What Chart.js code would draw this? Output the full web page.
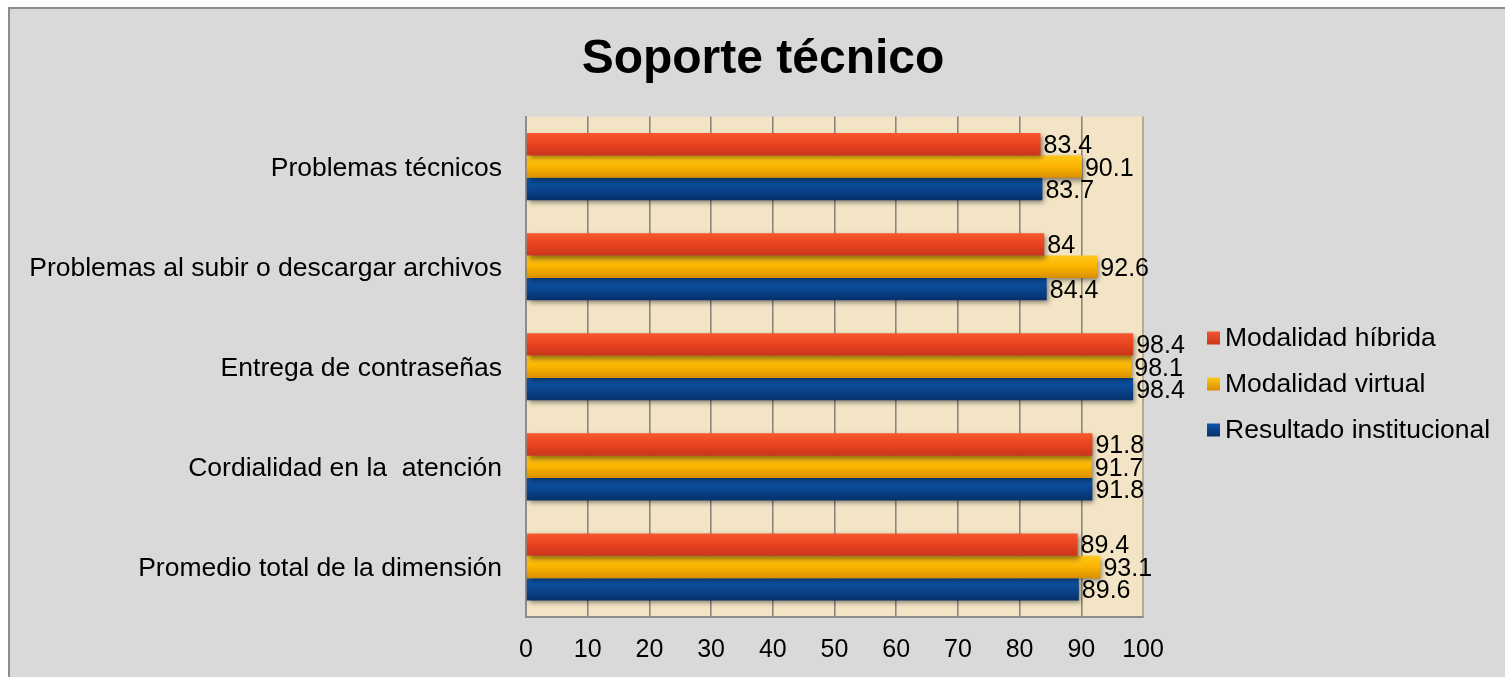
<!DOCTYPE html>
<html>
<head>
<meta charset="utf-8">
<title>Soporte técnico</title>
<script src="https://cdn.jsdelivr.net/npm/chart.js@4.4.1/dist/chart.umd.min.js"></script>
<style>
  html, body { margin: 0; padding: 0; background: #ffffff; overflow: hidden; }
  #frame {
    position: absolute; left: 8px; top: 7px; width: 1530px; height: 700px;
    background: #d9d9d9; border: 2px solid #8c8c8c;
  }
  #wrap { position: absolute; left: 0; top: 0; width: 1526px; height: 677px; }
</style>
</head>
<body>
<div id="frame"></div>
<div id="wrap"><canvas id="soporteChart"></canvas></div>
<script>
// ---- data ----
const categories = [
  'Problemas técnicos',
  'Problemas al subir o descargar archivos',
  'Entrega de contraseñas',
  'Cordialidad en la  atención',
  'Promedio total de la dimensión'
];
const seriesNames = ['Modalidad híbrida', 'Modalidad virtual', 'Resultado institucional'];
const hibrida = [83.4, 84, 98.4, 91.8, 89.4];
const virtual = [90.1, 92.6, 98.1, 91.7, 93.1];
const institucional = [83.7, 84.4, 98.4, 91.8, 89.6];
const xTicks = [0, 10, 20, 30, 40, 50, 60, 70, 80, 90, 100];

// ---- style ----
const FONT = "'Liberation Sans', Arial, sans-serif";
const CAT_PCT = 0.67;
const palettes = [
  ['#f6582f', '#e8431f', '#c9351a'],   // red
  ['#ffc71a', '#fbb400', '#d98e00'],   // orange
  ['#0d55a8', '#0a4690', '#06306a']    // blue
];

function barFill(c, stops) {
  const chart = c.chart;
  const y = chart.scales.y;
  if (!y || c.type !== 'data') return stops[1];
  const center = y.getPixelForValue(c.dataIndex);
  const band = Math.abs(y.getPixelForValue(1) - y.getPixelForValue(0)) * CAT_PCT / 3;
  const top = center + (c.datasetIndex - 1.5) * band;
  if (!isFinite(top) || !isFinite(band) || band <= 0) return stops[1];
  const g = chart.ctx.createLinearGradient(0, top, 0, top + band);
  g.addColorStop(0, stops[0]);
  g.addColorStop(0.5, stops[1]);
  g.addColorStop(1, stops[2]);
  return g;
}

const plotBackground = {
  id: 'plotBackground',
  beforeDraw(chart) {
    const { ctx, chartArea: a } = chart;
    ctx.save();
    ctx.fillStyle = '#f2e4c5';
    ctx.fillRect(a.left, a.top, a.right - a.left, a.bottom - a.top);
    ctx.strokeStyle = '#b9ab90';
    ctx.lineWidth = 2;
    ctx.beginPath();
    ctx.moveTo(a.right, a.top);
    ctx.lineTo(a.right, a.bottom);
    ctx.stroke();
    ctx.restore();
  }
};

const barShadow = {
  id: 'barShadow',
  beforeDatasetDraw(chart) {
    const ctx = chart.ctx;
    ctx.save();
    ctx.shadowColor = 'rgba(0,0,0,0.45)';
    ctx.shadowBlur = 5;
    ctx.shadowOffsetX = 2;
    ctx.shadowOffsetY = 3;
  },
  afterDatasetDraw(chart) {
    chart.ctx.restore();
  }
};

const valueLabels = {
  id: 'valueLabels',
  afterDatasetsDraw(chart) {
    const ctx = chart.ctx;
    ctx.save();
    ctx.font = '25px ' + FONT;
    ctx.fillStyle = '#000';
    ctx.textAlign = 'left';
    ctx.textBaseline = 'middle';
    chart.data.datasets.forEach((ds, i) => {
      chart.getDatasetMeta(i).data.forEach((el, j) => {
        ctx.fillText(String(ds.data[j]), el.x + 3, el.y + 2);
      });
    });
    ctx.restore();
  }
};

const sideLegend = {
  id: 'sideLegend',
  afterDraw(chart) {
    const ctx = chart.ctx;
    const x0 = chart.chartArea.right + 64;
    const y0 = 338, step = 46, box = 13;
    ctx.save();
    ctx.font = '26.5px ' + FONT;
    ctx.textAlign = 'left';
    ctx.textBaseline = 'middle';
    seriesNames.forEach((name, i) => {
      const y = y0 + i * step;
      const g = ctx.createLinearGradient(0, y - box / 2, 0, y + box / 2);
      g.addColorStop(0, palettes[i][0]);
      g.addColorStop(1, palettes[i][2]);
      ctx.fillStyle = g;
      ctx.fillRect(x0, y - box / 2, box, box);
      ctx.fillStyle = '#000';
      ctx.fillText(name, x0 + box + 5, y + 1);
    });
    ctx.restore();
  }
};

new Chart(document.getElementById('soporteChart'), {
  type: 'bar',
  data: {
    labels: categories,
    datasets: [hibrida, virtual, institucional].map((values, i) => ({
      label: seriesNames[i],
      data: values,
      yAxisID: 'y',
      backgroundColor: c => barFill(c, palettes[i]),
      borderWidth: 0,
      categoryPercentage: CAT_PCT,
      barPercentage: 1.0
    }))
  },
  options: {
    indexAxis: 'y',
    responsive: true,
    maintainAspectRatio: false,
    animation: false,
    layout: { padding: { left: 0, right: 0, top: 7, bottom: 0 } },
    plugins: {
      legend: { display: false },
      tooltip: { enabled: false },
      title: {
        display: true,
        text: 'Soporte técnico',
        color: '#000',
        font: { family: FONT, size: 48, weight: 'bold' },
        padding: { top: 24, bottom: 28 }
      }
    },
    scales: {
      x: {
        min: 0,
        max: 100,
        afterFit: s => { s.height = 60; },
        afterBuildTicks: s => { s.ticks = xTicks.map(v => ({ value: v })); },
        grid: {
          color: ctx => ctx.tick && ctx.tick.value === 100 ? 'rgba(0,0,0,0)' : '#8a867e',
          lineWidth: 1.6,
          drawTicks: false
        },
        border: { display: true, color: '#8c8c8c', width: 2 },
        ticks: { color: '#000', padding: 18, font: { family: FONT, size: 25 } }
      },
      y: {
        position: 'left',
        afterFit: s => { s.width = 526; },
        grid: { display: false, drawTicks: false },
        border: { display: true, color: '#8c8c8c', width: 2 },
        ticks: { color: '#000', padding: 24, labelOffset: 2, font: { family: FONT, size: 26.5 } }
      },
      // empty right-hand box that keeps room for the legend
      legendSpace: {
        type: 'category',
        position: 'right',
        afterFit: s => { s.width = 383; },
        grid: { display: false, drawTicks: false },
        border: { display: false },
        ticks: { display: false }
      }
    }
  },
  plugins: [plotBackground, barShadow, valueLabels, sideLegend]
});
</script>
</body>
</html>
